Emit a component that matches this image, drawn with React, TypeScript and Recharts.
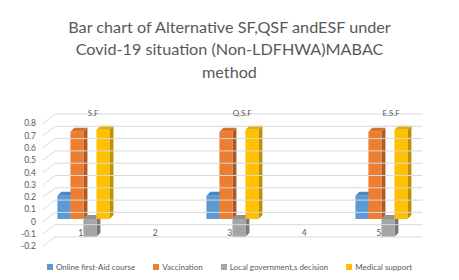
import React from 'react';
import { BarChart, Bar, XAxis, YAxis, ReferenceLine, Legend, ReferenceDot } from 'recharts';

const categories = ['1', '2', '3', '4', '5'];
const onlineFirstAid = [0.19, null, 0.19, null, 0.19];
const vaccination = [0.71, null, 0.71, null, 0.71];
const localGovernment = [-0.145, null, -0.145, null, -0.145];
const medicalSupport = [0.725, null, 0.725, null, 0.725];
const groupLabels = ['S.F', '', 'Q.S.F', '', 'E.S.F'];
const yTicks = [-0.2, -0.1, 0, 0.1, 0.2, 0.3, 0.4, 0.5, 0.6, 0.7, 0.8];
const seriesNames = ['Online first-Aid course', 'Vaccination', 'Local government,s decision', 'Medical support'];
const titleLines = ['Bar chart of Alternative SF,QSF andESF under', 'Covid-19 situation (Non-LDFHWA)MABAC', 'method'];

const data = categories.map((c, i) => ({
  name: c,
  online: onlineFirstAid[i],
  vacc: vaccination[i],
  local: localGovernment[i],
  medical: medicalSupport[i],
}));

const FONT = 'Lato, "Liberation Sans", sans-serif';
const TEXT = '#595959';
const DEPTH = 4;
const PERSPECTIVE_SHIFT = 3;

const make3D = (front: string, top: string, side: string) => (props: any) => {
  const { y, width, height } = props;
  if (props.x == null || y == null || !height) return <g />;
  const x = props.x + PERSPECTIVE_SHIFT;
  const t = Math.min(y, y + height);
  const h = Math.abs(height);
  const d = DEPTH;
  return (
    <g>
      <polygon points={`${x + width},${t} ${x + width + d},${t - d} ${x + width + d},${t + h - d} ${x + width},${t + h}`} fill={side} />
      <polygon points={`${x},${t} ${x + d},${t - d} ${x + width + d},${t - d} ${x + width},${t}`} fill={top} />
      <rect x={x} y={t} width={width} height={h} fill={front} />
    </g>
  );
};

const gridLine = (props: any) => {
  const { x1, x2, y1 } = props;
  const left = Math.min(x1, x2);
  const right = Math.max(x1, x2);
  return (
    <polyline
      points={`${left - 1},${y1 + 2.7} ${left + 11},${y1 - 6.6} ${right + 6},${y1 - 6.6}`}
      fill="none"
      stroke="#D9D9D9"
      strokeWidth={1}
    />
  );
};

const ValueTick = (props: any) => (
  <text x={props.x} y={props.y} dy={5.7} textAnchor="end" fontSize={8.5} fill={TEXT} fontFamily={FONT}>
    {props.payload.value}
  </text>
);

const CategoryTick = (props: any) => (
  <text x={props.x - 0.5} y={props.y} dy={-15.6} textAnchor="middle" fontSize={8.5} fill={TEXT} fontFamily={FONT}>
    {props.payload.value}
  </text>
);

const renderLegend = (props: any) => {
  const items = [...(props.payload || [])].sort(
    (a: any, b: any) => seriesNames.indexOf(a.value) - seriesNames.indexOf(b.value)
  );
  return (
    <div style={{ display: 'flex', justifyContent: 'center', width: 459, height: 14, lineHeight: '14px', fontSize: 8, color: TEXT, fontFamily: FONT }}>
      {items.map((p: any, i: number) => (
        <span key={i} style={{ display: 'inline-flex', alignItems: 'center', marginRight: i < items.length - 1 ? 18 : 0 }}>
          <span style={{ display: 'inline-block', width: 6, height: 6, background: p.color, marginRight: 3 }} />
          {p.value}
        </span>
      ))}
    </div>
  );
};

const groupLabel = (text: string) => (props: any) => {
  const vb = props.viewBox || {};
  const cx = (vb.x || 0) + (vb.width || 0) / 2;
  const cy = (vb.y || 0) + (vb.height || 0) / 2;
  return (
    <text x={cx + 12} y={cy} dy={-4.5} textAnchor="middle" fontSize={8} fill={TEXT} fontFamily={FONT}>
      {text}
    </text>
  );
};

export default function App() {
  return (
    <div style={{ position: 'absolute', left: 0, top: 0, width: 459, height: 280, background: '#fff', fontFamily: FONT }}>
      <div style={{ position: 'absolute', left: 0, top: 15.5, width: 459, textAlign: 'center', fontSize: 16.2, lineHeight: '22.5px', color: TEXT }}>
        {titleLines.map((l, i) => (
          <div key={i}>{l}</div>
        ))}
      </div>
      <BarChart
        width={459}
        height={280}
        data={data}
        margin={{ top: 120.6, right: 42.5, left: 8, bottom: 6 }}
        barGap={0}
        barCategoryGap="14%"
      >
        <XAxis dataKey="name" axisLine={false} tickLine={false} height={16.4} tick={CategoryTick} interval={0} />
        <YAxis
          width={36}
          domain={[-0.2, 0.8]}
          ticks={yTicks}
          axisLine={false}
          tickLine={false}
          tick={ValueTick}
          interval={0}
        />
        {yTicks.map((t) => (
          <ReferenceLine key={`grid-${t}`} y={t} shape={gridLine} />
        ))}
        <Legend verticalAlign="bottom" content={renderLegend} wrapperStyle={{ height: 14, left: 0, width: 459 }} />
        <Bar dataKey="online" name={seriesNames[0]} fill="#5B9BD5" shape={make3D('#5B9BD5', '#4A86C0', '#41719C')} isAnimationActive={false} />
        <Bar dataKey="vacc" name={seriesNames[1]} fill="#ED7D31" shape={make3D('#ED7D31', '#D9702A', '#AE5A21')} isAnimationActive={false} />
        <Bar dataKey="local" name={seriesNames[2]} fill="#A5A5A5" shape={make3D('#A5A5A5', '#929292', '#787878')} isAnimationActive={false} />
        <Bar dataKey="medical" name={seriesNames[3]} fill="#FFC000" shape={make3D('#FFC000', '#E6AD00', '#BF9000')} isAnimationActive={false} />
        {categories.map((c, i) =>
          groupLabels[i] ? (
            <ReferenceDot key={c} x={c} y={0.8} r={1} fill="none" stroke="none" label={groupLabel(groupLabels[i])} />
          ) : null
        )}
      </BarChart>
    </div>
  );
}
